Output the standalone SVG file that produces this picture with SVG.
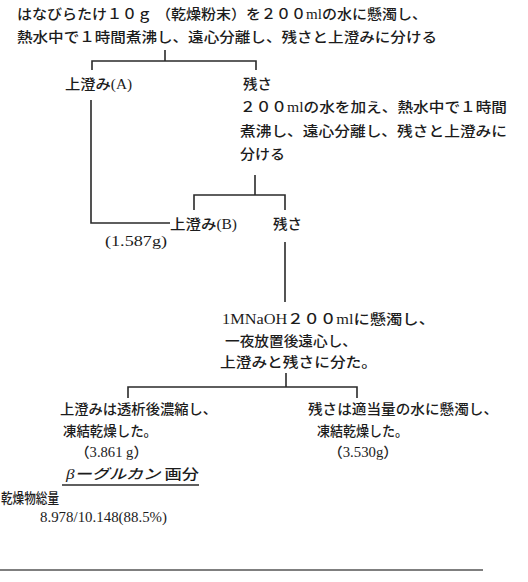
<svg xmlns="http://www.w3.org/2000/svg" width="528" height="582" viewBox="0 0 528 582">
  <style>
    text { font-family: "Liberation Serif", "Noto Sans CJK JP", serif; font-size: 14px; font-weight: 500; fill: #1c1c1c; }
    .c { fill: none; stroke: #2a2a2a; stroke-width: 1.6; }
    .rule { stroke: #555; stroke-width: 1.4; }
  </style>
  <rect width="528" height="582" fill="#ffffff"/>

  <!-- connectors -->
  <g id="connectors">
    <path class="c" d="M165,50 V61"/>
    <path class="c" d="M92,70 V61 H256 V70"/>
    <path class="c" d="M91,100 V223 H170"/>
    <path class="c" d="M255,175 V195"/>
    <path class="c" d="M194,210 V195 H285 V210"/>
    <path class="c" d="M285,242 V302"/>
    <path class="c" d="M286,373 V387"/>
    <path class="c" d="M128,398 V387 H357 V398"/>
  </g>

  <g id="start">
    <text x="17" y="19" textLength="410" lengthAdjust="spacingAndGlyphs">はなびらたけ１０ｇ （乾燥粉末）を２００mlの水に懸濁し、</text>
    <text x="17" y="42" textLength="420" lengthAdjust="spacingAndGlyphs">熱水中で１時間煮沸し、遠心分離し、残さと上澄みに分ける</text>
  </g>

  <g id="supernatant-a">
    <text x="65" y="89" textLength="67" lengthAdjust="spacingAndGlyphs">上澄み(A)</text>
  </g>

  <g id="residue-1">
    <text x="243" y="89" textLength="29" lengthAdjust="spacingAndGlyphs">残さ</text>
    <text x="240" y="112" textLength="267" lengthAdjust="spacingAndGlyphs">２００mlの水を加え、熱水中で１時間</text>
    <text x="240" y="136" textLength="267" lengthAdjust="spacingAndGlyphs">煮沸し、遠心分離し、残さと上澄みに</text>
    <text x="240" y="159" textLength="45" lengthAdjust="spacingAndGlyphs">分ける</text>
  </g>

  <g id="supernatant-b">
    <text x="170" y="229" textLength="67" lengthAdjust="spacingAndGlyphs">上澄み(B)</text>
    <text x="105" y="246" textLength="62" lengthAdjust="spacingAndGlyphs">(1.587g)</text>
  </g>

  <g id="residue-2">
    <text x="273" y="229" textLength="29" lengthAdjust="spacingAndGlyphs">残さ</text>
  </g>

  <g id="alkali-step">
    <text x="222" y="324" textLength="213" lengthAdjust="spacingAndGlyphs">1MNaOH２００mlに懸濁し、</text>
    <text x="225" y="346" textLength="132" lengthAdjust="spacingAndGlyphs">一夜放置後遠心し、</text>
    <text x="220" y="367" textLength="157" lengthAdjust="spacingAndGlyphs">上澄みと残さに分た。</text>
  </g>

  <g id="glucan-fraction">
    <text x="60" y="414" textLength="157" lengthAdjust="spacingAndGlyphs">上澄みは透析後濃縮し、</text>
    <text x="63" y="436" textLength="94" lengthAdjust="spacingAndGlyphs">凍結乾燥した。</text>
    <text x="75" y="457" textLength="73" lengthAdjust="spacingAndGlyphs">（3.861 g）</text>
    <text x="66" y="479" textLength="133" lengthAdjust="spacingAndGlyphs"><tspan font-style="italic">βーグルカン</tspan> 画分</text>
    <path class="c" d="M62,485 H199" stroke-width="1.2"/>
  </g>

  <g id="residue-3">
    <text x="308" y="414" textLength="190" lengthAdjust="spacingAndGlyphs">残さは適当量の水に懸濁し、</text>
    <text x="317" y="436" textLength="91" lengthAdjust="spacingAndGlyphs">凍結乾燥した。</text>
    <text x="328" y="457" textLength="70" lengthAdjust="spacingAndGlyphs">（3.530g）</text>
  </g>

  <g id="total">
    <text x="1" y="503" font-size="12.5" textLength="58" lengthAdjust="spacingAndGlyphs">乾燥物総量</text>
    <text x="40" y="522" textLength="127" lengthAdjust="spacingAndGlyphs">8.978/10.148(88.5%)</text>
  </g>

  <line class="rule" x1="0" y1="570" x2="483" y2="570"/>
</svg>
